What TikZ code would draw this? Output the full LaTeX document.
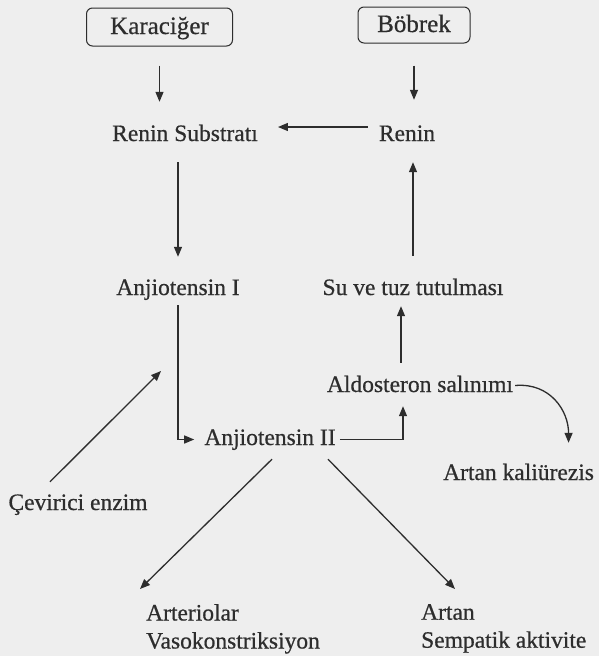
\documentclass[tikz,border=0pt]{standalone}
\usepackage{fontspec}
\setmainfont{Liberation Serif}[FakeBold=0.6]
\usetikzlibrary{arrows.meta}
\definecolor{ink}{RGB}{45,45,45}
\definecolor{paper}{RGB}{238,238,238}
\begin{document}
\begin{tikzpicture}[x=1pt,y=-1pt,
  every node/.style={font=\fontsize{23.5}{28}\selectfont, text=ink, inner sep=0pt},
  lbl/.style={text height=16pt, text depth=5pt, anchor=base},
  multi/.style={align=left, anchor=north west},
  srcbox/.style={draw=ink, line width=1pt, rounded corners=6pt, text height=16pt, text depth=2pt, font=\fontsize{25}{28}\selectfont},
  conn/.style={draw=ink, line width=1.3pt, -{Triangle[length=10pt,width=8pt]}},
  bare/.style={draw=ink, line width=1.3pt}]
\fill[paper] (0,0) rectangle (599,656);
\useasboundingbox (0,0) rectangle (599,656);

% nodes
\node[srcbox, minimum width=146pt, minimum height=38pt] (kar) at (159.5,27) {Karaciğer};
\node[srcbox, minimum width=112pt, minimum height=36pt] (bob) at (414,25) {Böbrek};
\node[lbl] (rs)  at (185,141) {Renin Substratı};
\node[lbl] (ren) at (407,141) {Renin};
\node[lbl] (a1)  at (178,295) {Anjiotensin I};
\node[lbl] (su)  at (413,295) {Su ve tuz tutulması};
\node[lbl] (ald) at (420,392) {Aldosteron salınımı};
\node[lbl] (a2)  at (270,445) {Anjiotensin II};
\node[lbl, anchor=base west] (kal) at (443,480) {Artan kaliürezis};
\node[lbl] (cev) at (78,510) {Çevirici enzim};
\node[multi] (art) at (146,604) {Arteriolar\\Vasokonstriksiyon};
\node[multi] (sem) at (421,604) {Artan\\Sempatik aktivite};
\coordinate (cevtip) at (161,371);

% connectors
\draw[conn, shorten <=19pt, shorten >=23pt] (kar.south) -- (kar.south |- rs.north);
\draw[conn, shorten <=22pt, shorten >=25pt] (bob.south) -- (bob.south |- ren.north);
\draw[conn, shorten <=11pt, shorten >=20pt] ([yshift=8.5pt]ren.west) -- ([yshift=8.5pt]ren.west -| rs.east);
\draw[conn, shorten <=16pt, shorten >=22pt] (a1.north |- rs.south) -- (a1.north);
\draw[conn, shorten <=5pt, shorten >=10pt] (a1.south) |- (a2.west);
\draw[conn, shorten <=23pt, shorten >=16pt] (su.north) -- (su.north |- ren.south);
\draw[conn, shorten <=13pt, shorten >=6pt] ([xshift=-19pt]ald.north) -- ([xshift=-12pt]su.south);
\draw[conn, shorten <=4pt, shorten >=9pt] (a2.east) -| ([xshift=-17pt]ald.south);
\draw[conn] ([shift={(-28,-12)}]cev.north) -- (cevtip);
\draw[conn] ([shift={(2,-1)}]ald.east) .. controls +(35,-3) and +(0,-32) .. ([shift={(50,-21)}]kal.north);
\draw[conn] ([shift={(2,9)}]a2.south) -- ([shift={(-6,-15)}]art.north west);
\draw[conn] ([shift={(58,9)}]a2.south) -- ([shift={(34,-15)}]sem.north west);
\end{tikzpicture}
\end{document}
